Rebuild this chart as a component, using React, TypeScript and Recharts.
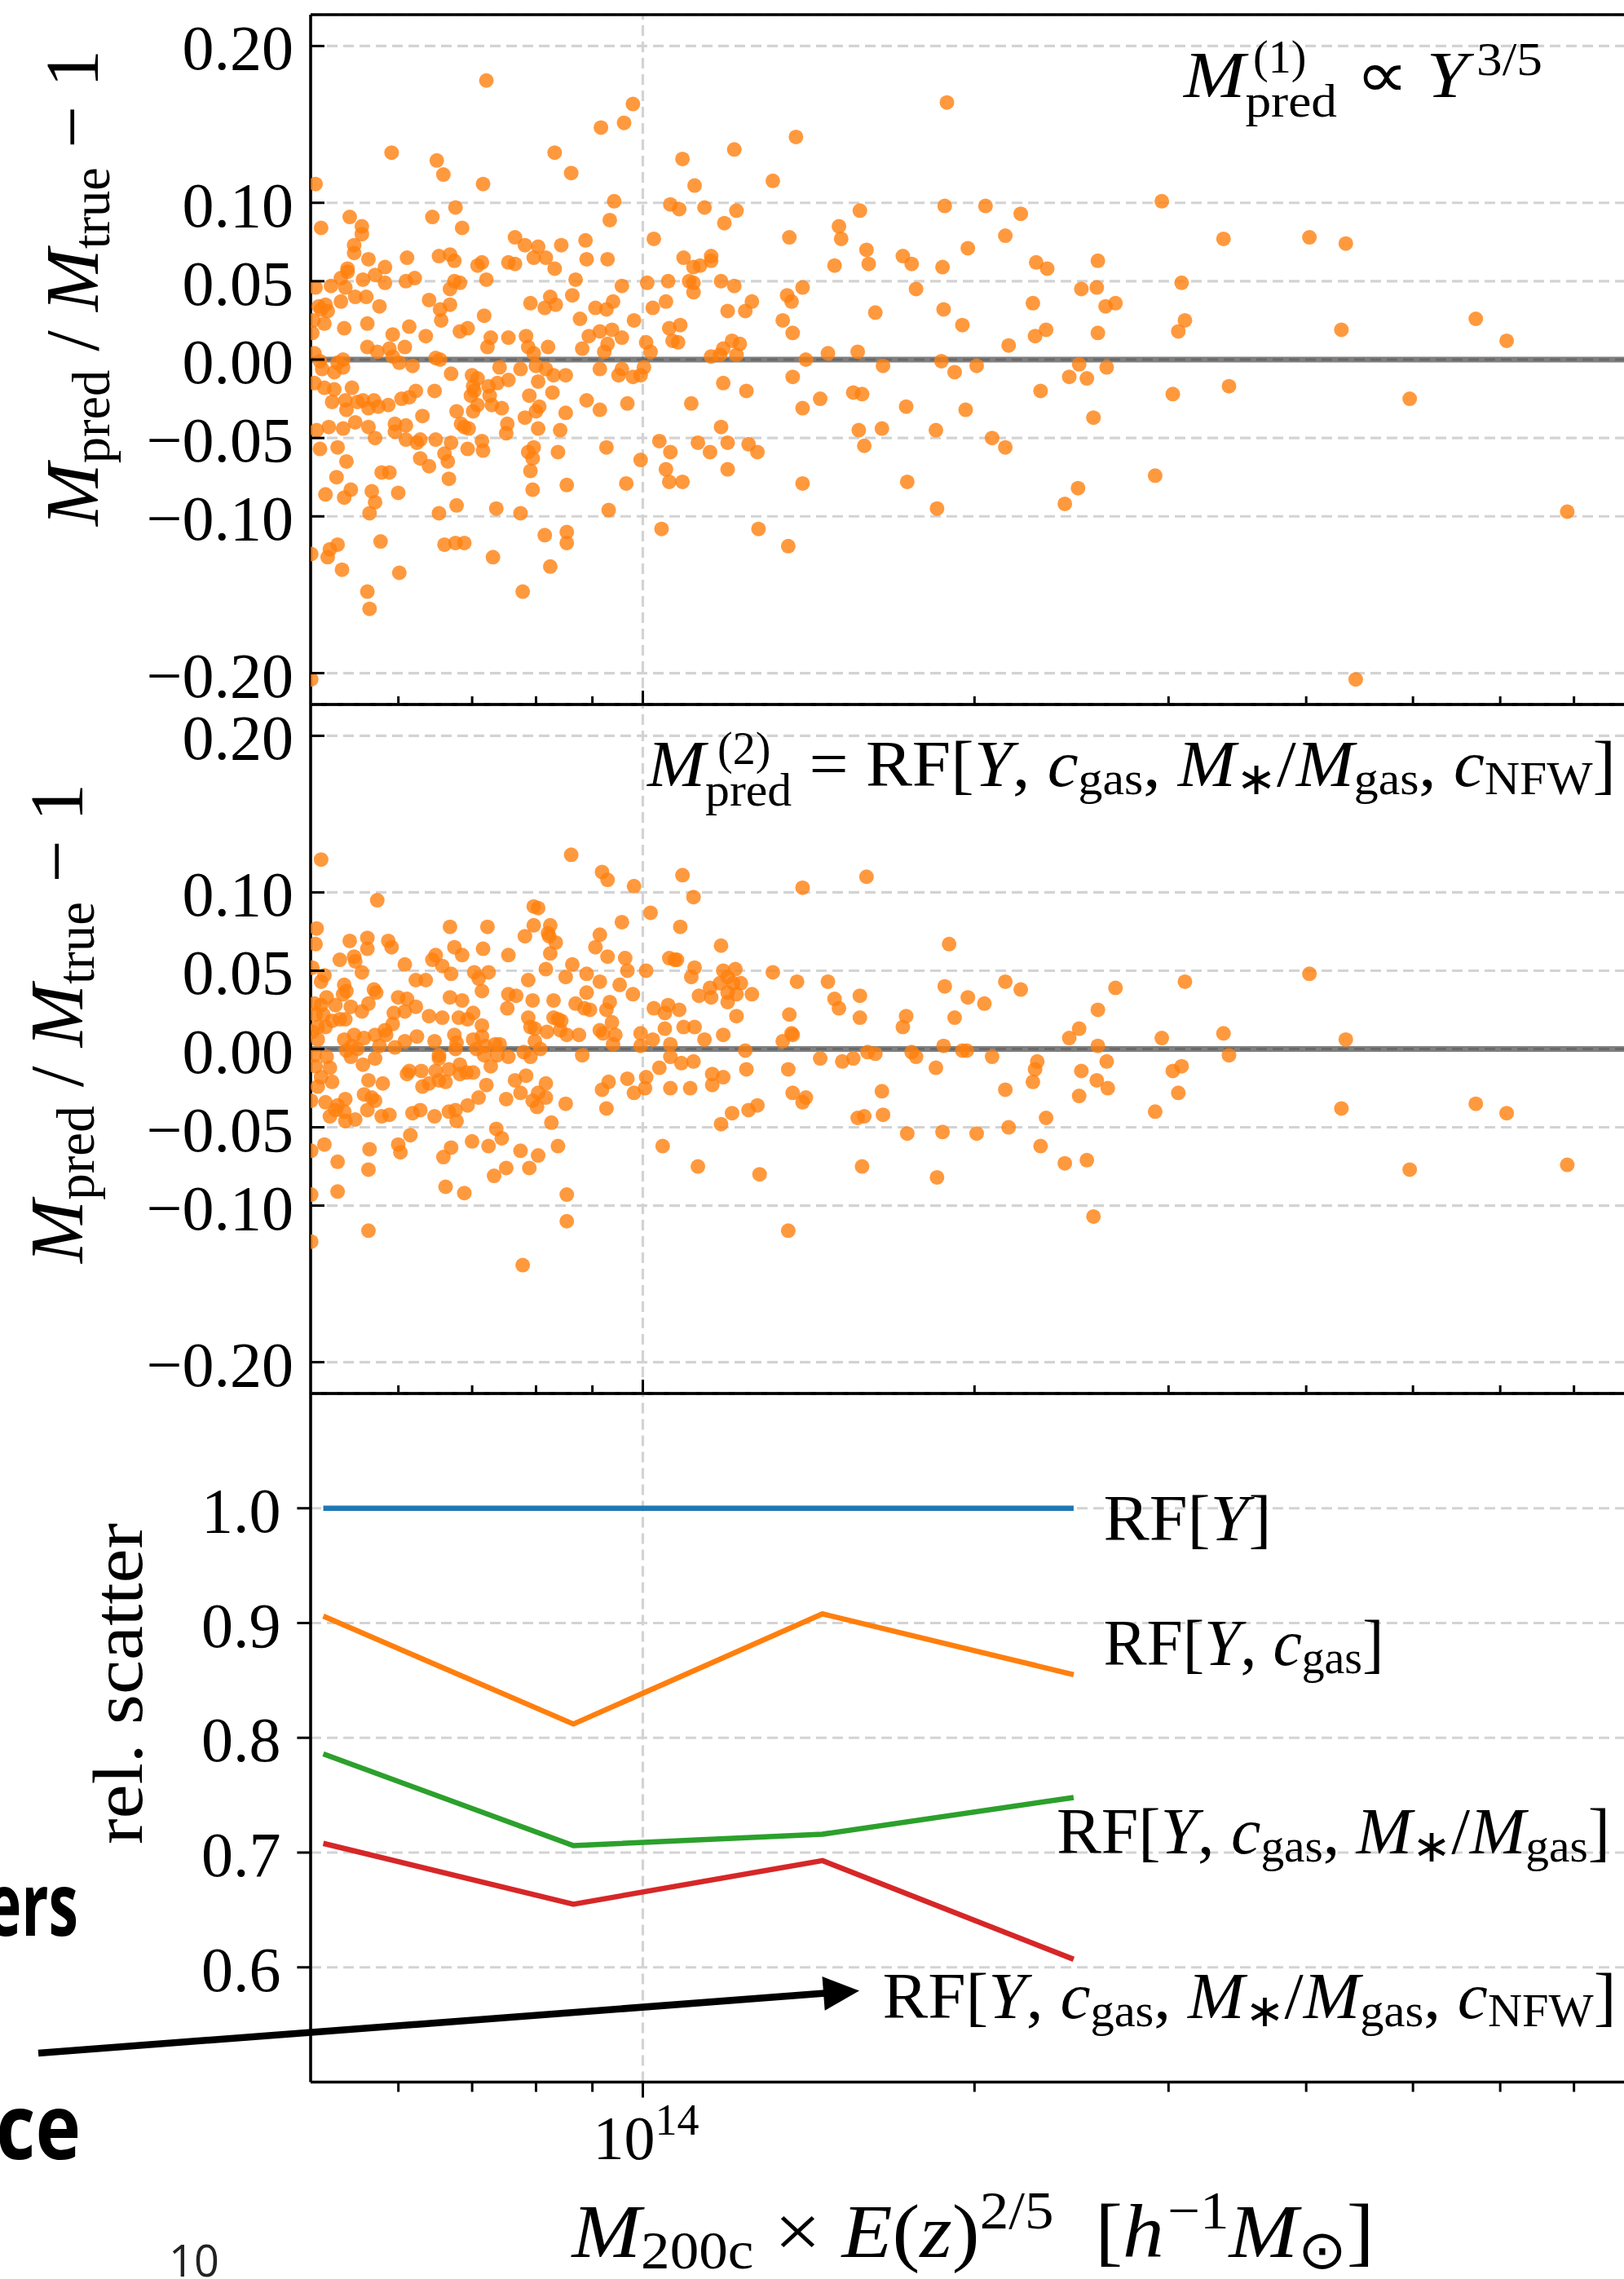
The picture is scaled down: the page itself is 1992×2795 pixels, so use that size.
import React from "react";
import {
  ScatterChart, Scatter, LineChart, Line,
  XAxis, YAxis, CartesianGrid, ReferenceLine,
} from "recharts";

// [log10(M200c E(z)^{2/5} / h^-1 Msun), M_pred/M_true - 1]
const PANEL1_POINTS: [number, number][] = [
  [13.772, 0.132], [13.813, 0.127], [13.819, 0.118], [13.855, 0.112], [13.920, 0.132], [13.935, 0.119], [13.703, 0.112],
  [13.974, 0.101], [13.970, 0.089], [14.025, 0.099], [14.010, 0.077],
  [13.734, 0.091], [13.708, 0.084], [13.745, 0.085], [13.745, 0.080], [13.809, 0.091], [13.830, 0.097], [13.836, 0.084],
  [13.738, 0.073], [13.738, 0.068], [13.751, 0.064], [13.786, 0.065], [13.815, 0.066], [13.825, 0.067], [13.829, 0.063],
  [13.884, 0.078], [13.893, 0.073], [13.905, 0.072], [13.912, 0.065], [13.901, 0.065], [13.926, 0.073], [13.948, 0.076],
  [13.949, 0.064], [13.968, 0.064], [13.920, 0.058], [13.878, 0.062], [13.884, 0.061], [13.850, 0.060], [13.854, 0.062],
  [13.766, 0.059], [13.732, 0.058], [13.732, 0.056], [13.726, 0.052], [13.746, 0.051], [13.757, 0.054], [13.766, 0.049],
  [13.785, 0.050], [13.793, 0.052], [13.829, 0.050], [13.834, 0.049], [13.858, 0.051], [13.825, 0.045], [13.717, 0.047],
  [13.730, 0.046], [13.703, 0.046], [13.939, 0.051], [13.981, 0.047], [14.004, 0.049], [14.023, 0.050],
  [13.739, 0.040], [13.749, 0.040], [13.726, 0.037], [13.761, 0.034], [13.706, 0.034], [13.712, 0.035], [13.714, 0.031],
  [13.708, 0.032], [13.806, 0.038], [13.816, 0.032], [13.825, 0.035], [13.817, 0.025], [13.856, 0.028], [13.898, 0.036],
  [13.911, 0.033], [13.916, 0.040], [13.921, 0.035], [13.936, 0.041], [13.957, 0.033], [13.967, 0.032], [13.973, 0.037],
  [14.021, 0.037], [14.009, 0.033], [13.943, 0.026], [13.992, 0.025],
  [13.701, 0.025], [13.711, 0.023], [13.700, 0.017], [13.729, 0.020], [13.750, 0.023], [13.788, 0.021], [13.773, 0.016],
  [13.803, 0.015], [13.834, 0.018], [13.841, 0.020], [13.862, 0.014], [13.859, 0.008], [13.878, 0.014], [13.894, 0.015],
  [13.951, 0.015], [13.961, 0.018], [13.972, 0.019], [13.981, 0.014], [14.024, 0.020], [14.027, 0.012],
  [13.750, 0.008], [13.759, 0.005], [13.770, 0.007], [13.784, 0.008], [13.773, 0.002], [13.779, -0.002], [13.791, -0.004],
  [13.728, 0.000], [13.728, -0.005], [13.723, -0.002], [13.707, -0.001], [13.702, 0.004], [13.812, 0.001], [13.816, 0.000],
  [13.896, 0.008], [13.901, 0.004], [13.914, 0.008], [13.945, 0.007], [13.968, 0.010], [13.965, 0.005], [14.003, 0.011],
  [14.007, 0.005],
  [13.709, -0.006], [13.720, -0.008], [13.826, -0.009], [13.845, -0.010], [13.850, -0.012], [13.870, -0.005], [13.889, -0.006],
  [13.903, -0.004], [13.912, -0.006], [13.919, -0.010], [13.930, -0.010], [13.961, -0.006], [13.978, -0.010], [13.981, -0.006],
  [13.991, -0.011], [14.001, -0.005], [13.998, -0.010],
  [13.702, -0.015], [13.711, -0.018], [13.720, -0.019], [13.736, -0.018], [13.811, -0.020], [13.794, -0.020], [13.788, -0.024],
  [13.781, -0.025], [13.846, -0.017], [13.847, -0.020], [13.844, -0.023], [13.860, -0.017], [13.868, -0.015], [13.878, -0.013],
  [13.905, -0.014], [13.918, -0.021], [13.897, -0.023], [13.861, -0.023],
  [13.718, -0.027], [13.730, -0.026], [13.731, -0.032], [13.741, -0.027], [13.746, -0.026], [13.751, -0.031], [13.756, -0.026],
  [13.760, -0.030], [13.769, -0.029], [13.800, -0.036], [13.831, -0.033], [13.846, -0.033], [13.850, -0.029], [13.863, -0.029],
  [13.872, -0.031], [13.906, -0.030], [13.903, -0.033], [13.893, -0.037], [13.930, -0.034], [13.949, -0.026], [13.961, -0.032],
  [13.986, -0.028],
  [13.715, -0.043], [13.704, -0.045], [13.728, -0.044], [13.739, -0.040], [13.751, -0.043], [13.757, -0.050], [13.775, -0.041],
  [13.775, -0.046], [13.785, -0.042], [13.785, -0.051], [13.795, -0.053], [13.798, -0.051], [13.812, -0.051], [13.826, -0.053],
  [13.835, -0.041], [13.838, -0.043], [13.842, -0.044], [13.854, -0.052], [13.855, -0.058], [13.877, -0.041], [13.876, -0.047],
  [13.905, -0.044], [13.925, -0.045],
  [13.707, -0.057], [13.723, -0.056], [13.731, -0.065], [13.841, -0.057], [13.820, -0.060], [13.823, -0.065], [13.798, -0.063],
  [13.806, -0.068], [13.901, -0.056], [13.896, -0.059], [13.900, -0.063], [13.898, -0.071], [13.923, -0.059], [13.967, -0.056],
  [14.015, -0.052], [14.025, -0.059], [13.998, -0.064], [14.021, -0.070], [14.024, -0.078],
  [13.722, -0.075], [13.763, -0.072], [13.770, -0.072], [13.824, -0.076], [13.735, -0.083], [13.712, -0.086], [13.729, -0.088],
  [13.754, -0.084], [13.757, -0.091], [13.778, -0.085], [13.900, -0.083], [13.931, -0.080], [13.985, -0.079], [13.831, -0.093],
  [13.867, -0.095], [13.815, -0.098], [13.889, -0.098], [13.969, -0.096], [13.752, -0.098],
  [13.858, 0.178], [13.991, 0.163], [13.983, 0.151], [13.962, 0.148],
  [13.931, -0.110], [14.017, -0.108], [13.699, -0.124], [13.716, -0.121], [13.714, -0.126], [13.723, -0.118], [13.727, -0.134],
  [13.762, -0.116], [13.779, -0.136], [13.750, -0.148], [13.752, -0.159], [13.820, -0.118], [13.830, -0.117], [13.838, -0.117],
  [13.864, -0.126], [13.911, -0.112], [13.931, -0.117], [13.916, -0.132], [13.891, -0.148], [13.699, -0.204],
  [14.105, -0.108], [14.132, -0.119], [14.139, 0.142], [14.276, 0.164],
  [14.083, 0.134], [14.036, 0.128], [14.047, 0.111], [14.118, 0.114], [14.033, 0.096], [14.056, 0.097], [14.085, 0.095],
  [14.074, 0.087], [14.133, 0.078], [14.178, 0.085], [14.180, 0.077], [14.197, 0.095], [14.203, 0.070], [14.205, 0.061],
  [14.174, 0.060], [14.236, 0.066], [14.244, 0.061], [14.272, 0.059], [14.274, 0.098], [14.311, 0.098], [14.343, 0.093],
  [14.329, 0.079], [14.295, 0.071], [14.357, 0.062],
  [14.037, 0.065], [14.046, 0.059], [14.052, 0.060], [14.062, 0.066], [14.062, 0.063], [14.042, 0.050], [14.046, 0.049],
  [14.046, 0.043], [14.071, 0.050], [14.083, 0.047], [14.099, 0.037], [14.077, 0.031], [14.093, 0.031], [14.131, 0.041],
  [14.135, 0.037], [14.145, 0.046], [14.127, 0.025], [14.136, 0.017], [14.211, 0.030], [14.248, 0.045], [14.273, 0.032],
  [14.290, 0.022], [14.354, 0.036], [14.356, 0.015], [14.332, 0.009],
  [14.034, 0.022], [14.032, 0.011], [14.081, 0.012], [14.088, 0.010], [14.073, 0.007], [14.062, 0.002], [14.070, 0.003],
  [14.085, 0.003], [14.148, 0.000], [14.168, 0.004], [14.195, 0.005], [14.218, -0.004], [14.271, -0.001], [14.283, -0.008],
  [14.303, -0.004], [14.136, -0.011], [14.073, -0.015], [14.094, -0.020], [14.044, -0.028], [14.145, -0.031], [14.161, -0.025],
  [14.191, -0.021], [14.199, -0.022], [14.239, -0.030], [14.293, -0.032], [14.361, -0.020],
  [14.071, -0.043], [14.050, -0.053], [14.061, -0.059], [14.077, -0.053], [14.096, -0.054], [14.104, -0.059], [14.077, -0.070],
  [14.196, -0.045], [14.217, -0.044], [14.201, -0.055], [14.266, -0.045], [14.317, -0.050], [14.329, -0.056], [14.036, -0.078],
  [14.145, -0.079], [14.240, -0.078], [14.267, -0.095],
  [14.367, 0.058], [14.398, 0.045], [14.412, 0.046], [14.413, 0.063], [14.420, 0.034], [14.429, 0.036], [14.413, 0.017],
  [14.366, 0.019], [14.471, 0.101], [14.489, 0.049], [14.492, 0.025], [14.486, 0.018], [14.527, 0.077], [14.605, 0.078],
  [14.638, 0.074], [14.634, 0.019], [14.756, 0.026], [14.784, 0.012], [14.396, -0.003], [14.387, -0.011], [14.403, -0.012],
  [14.421, -0.005], [14.409, -0.037], [14.481, -0.022], [14.532, -0.017], [14.696, -0.025], [14.465, -0.074], [14.395, -0.082],
  [14.383, -0.092], [14.839, -0.097], [14.647, -0.204],
];

const PANEL2_POINTS: [number, number][] = [
  [13.708, 0.121], [13.935, 0.124], [13.963, 0.113], [13.968, 0.108], [13.992, 0.104],
  [13.759, 0.095], [13.901, 0.091], [13.905, 0.090], [13.901, 0.079], [13.916, 0.079], [14.007, 0.087], [13.981, 0.081],
  [13.704, 0.077], [13.703, 0.067], [13.734, 0.069], [13.750, 0.071], [13.750, 0.064], [13.769, 0.069], [13.772, 0.065],
  [13.825, 0.078], [13.859, 0.078], [13.893, 0.072], [13.914, 0.074], [13.915, 0.072], [13.921, 0.068], [13.829, 0.065],
  [13.836, 0.060], [13.855, 0.064], [13.878, 0.060], [13.916, 0.061], [13.961, 0.073], [13.957, 0.065], [13.968, 0.059],
  [13.984, 0.058], [14.024, 0.058], [14.029, 0.057],
  [13.725, 0.057], [13.738, 0.059], [13.739, 0.056], [13.745, 0.049], [13.784, 0.054], [13.809, 0.057], [13.812, 0.060],
  [13.818, 0.053], [13.826, 0.048], [13.847, 0.049], [13.851, 0.045], [13.860, 0.049], [13.854, 0.037], [13.912, 0.051],
  [13.936, 0.054], [13.930, 0.046], [13.949, 0.048], [13.961, 0.043], [13.986, 0.050], [14.003, 0.050], [13.979, 0.041],
  [13.991, 0.035], [13.949, 0.036], [13.896, 0.044],
  [13.700, 0.052], [13.711, 0.047], [13.708, 0.043], [13.794, 0.044], [13.803, 0.044], [13.729, 0.041], [13.731, 0.037],
  [13.728, 0.035], [13.756, 0.038], [13.758, 0.036], [13.751, 0.029], [13.735, 0.027], [13.745, 0.024], [13.721, 0.028],
  [13.713, 0.033], [13.702, 0.029], [13.708, 0.028], [13.703, 0.022], [13.710, 0.022], [13.718, 0.018], [13.725, 0.019],
  [13.730, 0.019], [13.705, 0.014], [13.712, 0.014], [13.700, 0.011], [13.705, 0.006],
  [13.778, 0.033], [13.786, 0.032], [13.794, 0.027], [13.784, 0.024], [13.774, 0.023], [13.773, 0.016], [13.766, 0.012],
  [13.757, 0.009], [13.767, 0.009], [13.747, 0.007], [13.738, 0.009], [13.729, 0.006], [13.736, 0.002], [13.731, -0.001],
  [13.741, 0.000], [13.761, 0.002], [13.775, 0.001], [13.784, 0.005], [13.795, 0.008],
  [13.806, 0.021], [13.818, 0.020], [13.825, 0.033], [13.836, 0.031], [13.833, 0.020], [13.841, 0.019], [13.846, 0.023],
  [13.854, 0.015], [13.811, 0.005], [13.829, 0.009], [13.831, 0.004], [13.830, 0.000], [13.846, 0.006], [13.854, 0.008],
  [13.857, 0.002], [13.866, 0.003], [13.870, 0.003], [13.856, -0.004], [13.849, 0.000], [13.815, -0.004], [13.815, -0.006],
  [13.878, 0.035], [13.885, 0.034], [13.877, 0.026], [13.900, 0.031], [13.919, 0.031], [13.896, 0.020], [13.919, 0.020],
  [13.923, 0.019], [13.926, 0.018], [13.898, 0.014], [13.902, 0.013], [13.913, 0.011], [13.925, 0.012], [13.931, 0.009],
  [13.942, 0.009], [13.939, 0.029], [13.947, 0.026], [13.952, 0.025], [13.967, 0.025], [13.970, 0.030], [13.972, 0.017],
  [13.961, 0.012], [13.964, 0.010], [13.975, 0.009], [13.973, 0.003], [13.998, 0.010], [14.009, 0.006], [13.998, 0.002],
  [14.010, 0.026], [14.020, 0.023], [14.023, 0.028], [14.020, 0.013], [14.025, 0.003],
  [13.902, 0.005], [13.907, 0.000], [13.892, -0.002], [13.898, -0.005], [13.878, -0.005], [13.868, -0.004], [13.945, -0.004],
  [14.025, -0.005],
  [13.702, -0.004], [13.713, -0.005], [13.716, -0.012], [13.703, -0.011], [13.708, -0.018], [13.718, -0.021], [13.705, -0.024],
  [13.735, -0.005], [13.746, -0.010], [13.757, -0.006], [13.751, -0.020], [13.764, -0.022], [13.786, -0.016], [13.788, -0.014],
  [13.799, -0.014], [13.800, -0.024], [13.806, -0.022], [13.812, -0.014], [13.815, -0.020], [13.821, -0.021], [13.824, -0.013],
  [13.834, -0.010], [13.834, -0.016], [13.840, -0.015], [13.846, -0.015], [13.862, -0.011], [13.858, -0.023], [13.884, -0.020],
  [13.894, -0.017], [13.912, -0.022], [13.969, -0.021], [13.963, -0.026], [13.986, -0.019], [14.003, -0.018], [14.002, -0.025],
  [13.992, -0.028], [14.015, -0.012], [14.025, -0.025],
  [13.699, -0.033], [13.712, -0.034], [13.723, -0.036], [13.730, -0.032], [13.721, -0.039], [13.729, -0.040], [13.716, -0.043],
  [13.730, -0.046], [13.739, -0.045], [13.747, -0.029], [13.754, -0.031], [13.757, -0.033], [13.750, -0.039], [13.763, -0.043],
  [13.770, -0.042], [13.791, -0.041], [13.798, -0.039], [13.811, -0.043], [13.824, -0.040], [13.830, -0.039], [13.831, -0.046],
  [13.841, -0.036], [13.851, -0.031], [13.876, -0.032], [13.889, -0.028], [13.900, -0.033], [13.905, -0.028], [13.904, -0.037],
  [13.912, -0.031], [13.930, -0.035], [13.967, -0.038], [13.917, -0.047],
  [13.867, -0.051], [13.872, -0.057], [13.845, -0.059], [13.860, -0.062], [13.826, -0.063], [13.819, -0.069], [13.789, -0.055],
  [13.778, -0.061], [13.780, -0.066], [13.752, -0.064], [13.711, -0.061], [13.699, -0.065], [13.723, -0.072], [13.751, -0.077],
  [13.889, -0.065], [13.905, -0.068], [13.923, -0.062], [13.876, -0.076], [13.897, -0.076], [13.865, -0.081], [14.018, -0.062],
  [13.723, -0.091], [13.821, -0.088], [13.838, -0.092], [13.931, -0.093], [13.699, -0.093],
  [13.699, -0.123], [13.751, -0.116], [13.931, -0.110], [13.891, -0.138], [14.132, -0.116],
  [14.036, 0.111], [14.046, 0.097], [14.145, 0.103], [14.203, 0.110], [14.034, 0.078], [14.071, 0.066], [14.031, 0.057],
  [14.047, 0.052], [14.044, 0.046], [14.073, 0.050], [14.084, 0.051], [14.077, 0.046], [14.070, 0.042], [14.082, 0.042],
  [14.089, 0.042], [14.061, 0.039], [14.051, 0.034], [14.062, 0.033], [14.077, 0.036], [14.077, 0.030], [14.085, 0.035],
  [14.099, 0.035], [14.033, 0.025], [14.085, 0.021], [14.037, 0.014], [14.047, 0.014], [14.056, 0.006], [14.073, 0.009],
  [14.118, 0.049], [14.140, 0.043], [14.168, 0.043], [14.174, 0.032], [14.178, 0.026], [14.197, 0.034], [14.197, 0.020],
  [14.133, 0.022], [14.135, 0.010], [14.136, 0.009], [14.127, 0.005], [14.239, 0.021], [14.236, 0.014], [14.278, 0.067],
  [14.274, 0.040], [14.295, 0.033], [14.310, 0.029], [14.283, 0.020], [14.329, 0.043], [14.343, 0.038],
  [14.093, -0.001], [14.035, -0.009], [14.046, -0.008], [14.094, -0.013], [14.063, -0.016], [14.073, -0.018], [14.063, -0.023],
  [14.043, -0.025], [14.132, -0.013], [14.161, -0.006], [14.181, -0.008], [14.191, -0.006], [14.204, -0.002], [14.211, -0.003],
  [14.244, -0.002], [14.248, -0.005], [14.273, 0.002], [14.290, -0.001], [14.294, -0.001], [14.317, -0.005], [14.266, -0.012],
  [14.136, -0.028], [14.148, -0.031], [14.145, -0.034], [14.217, -0.027], [14.329, -0.026], [14.354, -0.021], [14.356, -0.013],
  [14.358, -0.008],
  [14.096, -0.039], [14.104, -0.036], [14.081, -0.041], [14.071, -0.048], [14.195, -0.044], [14.201, -0.043], [14.218, -0.042],
  [14.240, -0.054], [14.272, -0.053], [14.303, -0.054], [14.332, -0.050], [14.361, -0.062], [14.050, -0.075], [14.106, -0.080],
  [14.199, -0.075], [14.267, -0.082],
  [14.396, 0.013], [14.387, 0.007], [14.413, 0.025], [14.429, 0.039], [14.413, 0.002], [14.398, -0.014], [14.412, -0.020],
  [14.421, -0.008], [14.422, -0.025], [14.396, -0.030], [14.366, -0.044], [14.383, -0.073], [14.403, -0.071], [14.409, -0.107],
  [14.465, -0.040], [14.471, 0.007], [14.481, -0.014], [14.489, -0.011], [14.486, -0.028], [14.492, 0.043], [14.527, 0.010],
  [14.532, -0.004], [14.605, 0.048], [14.638, 0.006], [14.634, -0.038], [14.696, -0.077], [14.756, -0.035], [14.784, -0.041],
  [14.839, -0.074],
];

// mass bins (log10) and relative scatter of each RF model
const BIN_LOGM = [13.710, 13.937, 14.163, 14.391];
const REL_RF_Y = [1.0, 1.0, 1.0, 1.0];
const REL_RF_Y_CGAS = [0.906, 0.812, 0.908, 0.855];
const REL_RF_Y_CGAS_MSTAR = [0.786, 0.706, 0.716, 0.748];
const REL_RF_ALL = [0.708, 0.655, 0.693, 0.607];

const X_TICK_MASSES = [6e13, 7e13, 8e13, 9e13, 1e14, 2e14, 3e14, 4e14, 5e14, 6e14, 7e14, 8e14, 9e14];
const X_TICKS = X_TICK_MASSES.map((m) => Math.log10(m));
const X_DOMAIN: [number, number] = [13.6985, 15];
const DEV_TICKS = [-0.2, -0.1, -0.05, 0, 0.05, 0.1, 0.2];
const DEV_LABELS = ["\u22120.20", "\u22120.10", "\u22120.05", "0.00", "0.05", "0.10", "0.20"];
const REL_TICKS = [0.6, 0.7, 0.8, 0.9, 1.0];
const REL_LABELS = ["0.6", "0.7", "0.8", "0.9", "1.0"];

const SERIF = "'Liberation Serif', 'Times New Roman', serif";
const SANS = "'Open Sans', 'Noto Sans', sans-serif";
const CHART_W = 2200;
const AXIS_W = 381;
const GRID = { stroke: "#d3d3d3", strokeWidth: 3.2, strokeDasharray: "13 7" };
const SPINE = { stroke: "#000", strokeWidth: 3.6 };

const isMajor = (v: number) => Math.abs(v - Math.round(v)) < 1e-9;

// x ticks: dir -1 draws upward from the spine, +1 downward
const xTick = (dir: 1 | -1, major: number, minor: number, label = false) => (p: any) => {
  const v = p.payload.value;
  const len = isMajor(v) ? major : minor;
  return (
    <g>
      <line x1={p.x} x2={p.x} y1={p.y} y2={p.y + dir * len} stroke="#000" strokeWidth={3} />
      {label && isMajor(v) ? (
        <text x={p.x + 4} y={p.y + 94} textAnchor="middle" fontFamily={SERIF} fontSize={76} fill="#000">
          10<tspan dy={-30} fontSize={54}>{Math.round(v)}</tspan>
        </text>
      ) : null}
    </g>
  );
};

const yTick = (ticks: number[], labels: string[], outward: boolean) => (p: any) => {
  const i = ticks.findIndex((t) => Math.abs(t - p.payload.value) < 1e-9);
  const len = outward ? -16.6 : 17;
  const gap = outward ? 36.6 : 21;
  return (
    <g>
      <line x1={p.x} x2={p.x + len} y1={p.y} y2={p.y} stroke="#000" strokeWidth={3} />
      <text x={p.x - gap} y={p.y + 29} textAnchor="end" fontFamily={SERIF} fontSize={78} fill="#000">
        {labels[i]}
      </text>
    </g>
  );
};

const Dot = (p: any) => <circle cx={p.cx} cy={p.cy} r={9} fill="#ff7f0e" fillOpacity={0.8} />;

function DevPanel({ points, top, height, plotTop, bottomH }: {
  points: [number, number][]; top: number; height: number; plotTop: number; bottomH: number;
}) {
  const data = points.map(([x, y]) => ({ x, y }));
  return (
    <div style={{ position: "absolute", left: 0, top }}>
      <ScatterChart width={CHART_W} height={height} margin={{ top: plotTop - 1, right: 60, bottom: 0, left: 0 }}>
        <CartesianGrid vertical={false} {...GRID} />
        <ReferenceLine x={14} {...GRID} />
        <XAxis dataKey="x" type="number" domain={X_DOMAIN} allowDataOverflow ticks={X_TICKS} interval={0}
          height={bottomH} tickSize={0} tickMargin={0} tickLine={false} axisLine={SPINE} tick={xTick(-1, 17, 10)} />
        <XAxis xAxisId="top" orientation="top" type="number" domain={X_DOMAIN} allowDataOverflow ticks={X_TICKS}
          interval={0} height={1} tickSize={0} tickMargin={0} tickLine={false} axisLine={SPINE} tick={xTick(1, 17, 10)} />
        <YAxis dataKey="y" type="number" domain={[-0.22, 0.22]} allowDataOverflow ticks={DEV_TICKS} interval={0}
          width={AXIS_W} tickSize={0} tickMargin={0} tickLine={false} axisLine={SPINE}
          tick={yTick(DEV_TICKS, DEV_LABELS, false)} />
        <Scatter data={data} shape={Dot} isAnimationActive={false} />
        <ReferenceLine y={0} stroke="#000" strokeOpacity={0.5} strokeWidth={7} />
      </ScatterChart>
    </div>
  );
}

function ScatterPanel() {
  const rows = BIN_LOGM.map((x, i) => ({
    x, a: REL_RF_Y[i], b: REL_RF_Y_CGAS[i], c: REL_RF_Y_CGAS_MSTAR[i], d: REL_RF_ALL[i],
  }));
  const line = { type: "linear" as const, dot: false, strokeWidth: 6.5, strokeLinejoin: "round" as const, isAnimationActive: false };
  return (
    <div style={{ position: "absolute", left: 0, top: 1690 }}>
      <LineChart width={CHART_W} height={1105} data={rows} margin={{ top: 18, right: 60, bottom: 0, left: 0 }}>
        <CartesianGrid vertical={false} {...GRID} />
        <ReferenceLine x={14} {...GRID} />
        <XAxis dataKey="x" type="number" domain={X_DOMAIN} allowDataOverflow ticks={X_TICKS} interval={0}
          height={241.5} tickSize={0} tickMargin={0} tickLine={false} axisLine={SPINE} tick={xTick(1, 19, 12, true)} />
        <XAxis xAxisId="top" orientation="top" type="number" domain={X_DOMAIN} allowDataOverflow
          height={1} tick={false} tickLine={false} axisLine={SPINE} />
        <YAxis type="number" domain={[0.5, 1.1]} allowDataOverflow ticks={REL_TICKS} interval={0} width={AXIS_W}
          tickSize={0} tickMargin={0} tickLine={false} axisLine={SPINE} tick={yTick(REL_TICKS, REL_LABELS, true)} />
        <Line dataKey="a" stroke="#1f77b4" {...line} />
        <Line dataKey="b" stroke="#ff7f0e" {...line} />
        <Line dataKey="c" stroke="#2ca02c" {...line} />
        <Line dataKey="d" stroke="#d62728" {...line} />
      </LineChart>
    </div>
  );
}

type Seg = { t: string; i?: boolean; d?: number; dx?: number };
const it = (t: string): Seg => ({ t, i: true });
const rm = (t: string): Seg => ({ t });
const sub = (t: string, d = 0.15): Seg => ({ t, d });
const sup = (t: string, d = -0.36, dx = 0): Seg => ({ t, d, dx });

function MathText({ x, y, size, segs, len, vertical }: {
  x: number; y: number; size: number; segs: Seg[]; len: number; vertical?: boolean;
}) {
  let cur = 0;
  return (
    <text x={x} y={y} fontFamily={SERIF} fontSize={size} fill="#000" textLength={len} lengthAdjust="spacingAndGlyphs"
      transform={vertical ? `rotate(-90 ${x} ${y})` : undefined} style={{ whiteSpace: "pre" }}>
      {segs.map((s, k) => {
        const off = (s.d ?? 0) * size;
        const dy = off - cur;
        cur = off;
        return (
          <tspan key={k} dy={dy || undefined} dx={s.dx ? s.dx * size : undefined}
            fontSize={s.d ? size * 0.7 : size} fontStyle={s.i ? "italic" : undefined}>
            {s.t}
          </tspan>
        );
      })}
    </text>
  );
}

const Y_LABEL = [it("M"), sub("pred"), rm(" / "), it("M"), sub("true"), rm(" \u2212 1")];
const RF_Y = [rm("RF["), it("Y"), rm("]")];
const RF_CGAS = [rm("RF["), it("Y"), rm(", "), it("c"), sub("gas", 0.13), rm("]")];
const RF_MSTAR = [rm("RF["), it("Y"), rm(", "), it("c"), sub("gas", 0.13), rm(", "), it("M"), sub("\u2217", 0.13),
  rm("/"), it("M"), sub("gas", 0.13), rm("]")];
const RF_ALL = [rm("RF["), it("Y"), rm(", "), it("c"), sub("gas", 0.13), rm(", "), it("M"), sub("\u2217", 0.13),
  rm("/"), it("M"), sub("gas", 0.13), rm(", "), it("c"), sub("NFW", 0.13), rm("]")];
const ANNOT_1 = [it("M"), sub("pred", 0.3), rm(" \u221D "), it("Y"), sup("3/5", -0.34, 0.12)];
const ANNOT_2 = [it("M"), sub("pred", 0.3), rm(" = "), ...RF_ALL];
const X_LABEL = [it("M"), sub("200c"), rm(" \u00D7 "), it("E"), rm("("), it("z"), rm(")"), sup("2/5", -0.37),
  rm("  ["), it("h"), sup("\u22121", -0.37, 0.04), it("M"), sub("\u2299"), rm("]")];

function Labels() {
  return (
    <svg width={1992} height={2795} style={{ position: "absolute", left: 0, top: 0, pointerEvents: "none" }}>
      <MathText x={120} y={645} size={94} segs={Y_LABEL} len={584} vertical />
      <MathText x={101} y={1549} size={94} segs={Y_LABEL} len={588} vertical />
      <text x={174} y={2262} transform="rotate(-90 174 2262)" fontFamily={SERIF} fontSize={86} textLength={394}
        lengthAdjust="spacingAndGlyphs">rel. scatter</text>

      <MathText x={1452} y={119} size={80} segs={ANNOT_1} len={440} />
      <text x={1537} y={89} fontFamily={SERIF} fontSize={56}>(1)</text>
      <MathText x={794} y={964} size={80} segs={ANNOT_2} len={1188} />
      <text x={880} y={937} fontFamily={SERIF} fontSize={56}>(2)</text>

      <MathText x={1353.5} y={1888.5} size={80} segs={RF_Y} len={206} />
      <MathText x={1353.5} y={2042} size={80} segs={RF_CGAS} len={344} />
      <MathText x={1296} y={2272.6} size={80} segs={RF_MSTAR} len={679} />
      <MathText x={1082.5} y={2475} size={80} segs={RF_ALL} len={900} />

      <MathText x={701.5} y={2768} size={94} segs={X_LABEL} len={984} />

      <line x1={47} y1={2518} x2={1012} y2={2444.6} stroke="#000" strokeWidth={8.5} />
      <polygon points="1054,2441.6 1011.7,2465.8 1008.5,2424" fill="#000" />

      <text x={-17} y={2374} fontFamily={SANS} fontWeight={700} fontSize={108} fill="#000"
        textLength={113} lengthAdjust="spacingAndGlyphs">ers</text>
      <text x={-5} y={2648} fontFamily={SANS} fontWeight={700} fontSize={112} fill="#000"
        textLength={104} lengthAdjust="spacingAndGlyphs">ce</text>
      <text x={207} y={2792} fontFamily={SANS} fontSize={54} fill="#222">10</text>
    </svg>
  );
}

export default function App() {
  return (
    <div style={{ position: "absolute", left: 0, top: 0, width: 1992, height: 2795, overflow: "hidden", background: "#fff" }}>
      <DevPanel points={PANEL1_POINTS} top={0} height={900} plotTop={18} bottomH={36} />
      <DevPanel points={PANEL2_POINTS} top={850} height={900} plotTop={14} bottomH={41} />
      <ScatterPanel />
      <Labels />
    </div>
  );
}
